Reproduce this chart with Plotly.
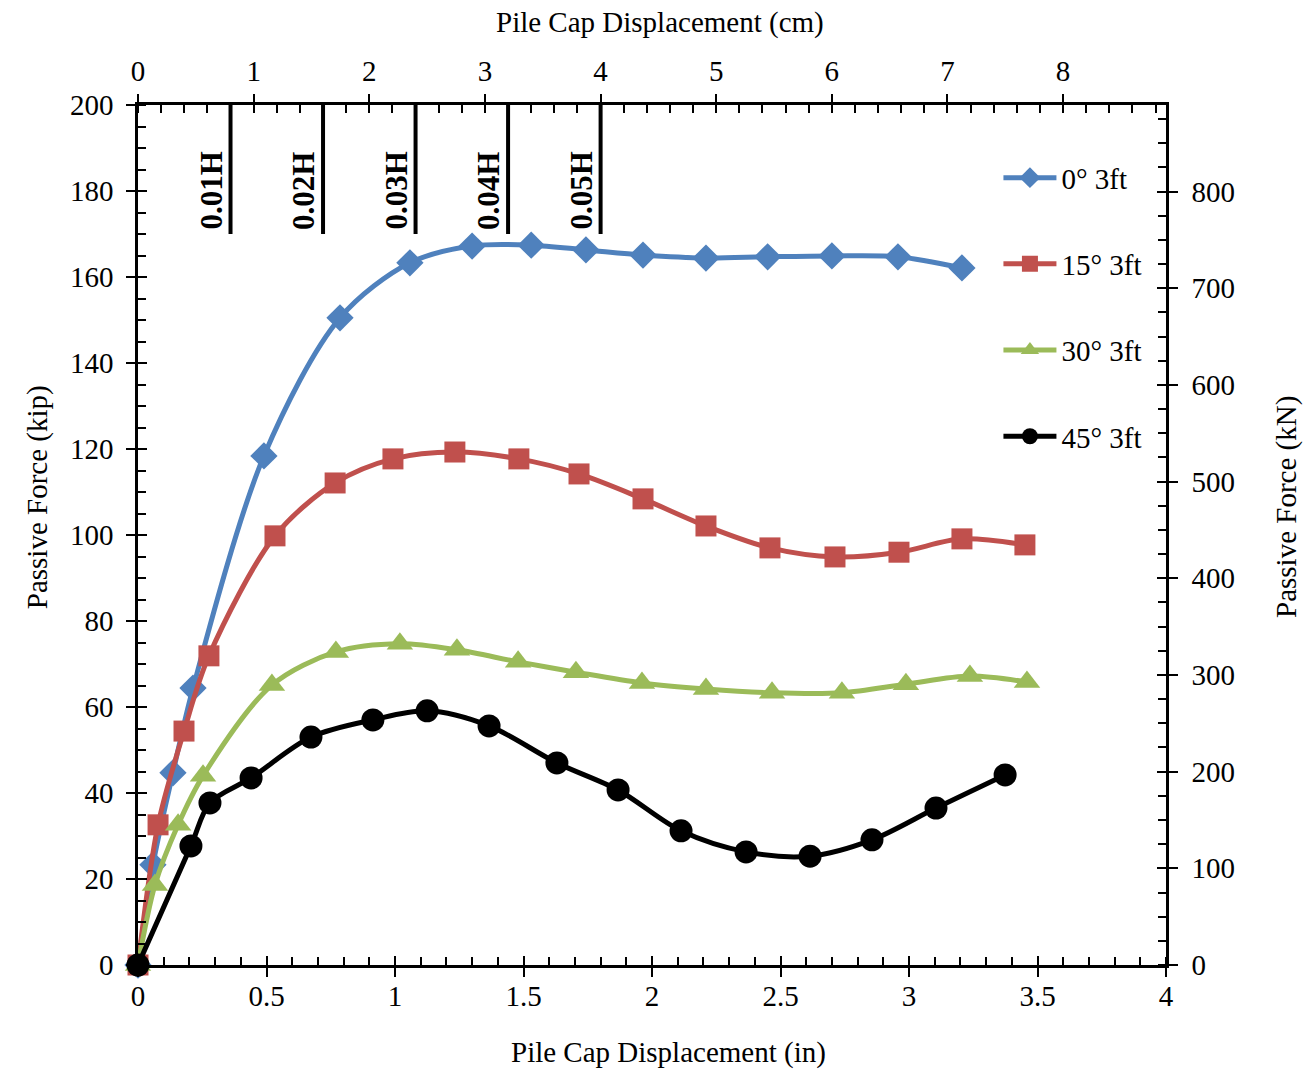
import plotly.graph_objects as go

# ---------------- data ----------------
x_0deg = [0, 0.058, 0.136, 0.214, 0.49, 0.786, 1.058, 1.30, 1.53, 1.743, 1.965, 2.21, 2.45, 2.70, 2.957, 3.206]
f_0deg = [0, 23.3, 44.7, 64.4, 118.4, 150.5, 163.3, 167.2, 167.4, 166.3, 165.1, 164.4, 164.7, 164.9, 164.7, 162.1]

x_15deg = [0, 0.078, 0.179, 0.276, 0.533, 0.767, 0.992, 1.233, 1.482, 1.716, 1.965, 2.21, 2.459, 2.712, 2.961, 3.206, 3.451]
f_15deg = [0, 32.6, 54.4, 71.9, 99.8, 112.1, 117.7, 119.3, 117.7, 114.2, 108.4, 102.1, 97.0, 94.9, 96.0, 99.1, 97.7]

x_30deg = [0, 0.066, 0.156, 0.253, 0.521, 0.77, 1.019, 1.241, 1.479, 1.704, 1.961, 2.21, 2.467, 2.739, 2.988, 3.237, 3.459]
f_30deg = [0, 18.6, 32.6, 44.0, 65.1, 72.8, 74.7, 73.3, 70.5, 68.1, 65.6, 64.2, 63.3, 63.3, 65.3, 67.2, 65.8]

x_45deg = [0, 0.206, 0.28, 0.44, 0.673, 0.914, 1.125, 1.366, 1.630, 1.868, 2.113, 2.366, 2.615, 2.856, 3.105, 3.374]
f_45deg = [0, 27.7, 37.7, 43.5, 53.0, 57.0, 59.1, 55.6, 47.0, 40.7, 31.2, 26.3, 25.3, 29.1, 36.5, 44.2]

series_names = ["0\u00b0 3ft", "15\u00b0 3ft", "30\u00b0 3ft", "45\u00b0 3ft"]

wall_height_in = 36.0
h_fractions = [0.01, 0.02, 0.03, 0.04, 0.05]
h_labels = ["0.01H", "0.02H", "0.03H", "0.04H", "0.05H"]

x_range_in = [0, 4]
y_range_kip = [0, 200]
x_range_cm = [0, 8.89]
KIP_TO_KN = 4.448

# ---------------- styles ----------------
FONT = "Liberation Serif"
FS = 29
colors = ["#4F81BD", "#C0504D", "#9BBB59", "#000000"]
symbols = ["diamond", "square", "triangle-up", "circle"]
msizes = [21, 21, 23, 23]

fig = go.Figure()
xs = [x_0deg, x_15deg, x_30deg, x_45deg]
fs = [f_0deg, f_15deg, f_30deg, f_45deg]
for i in range(4):
    fig.add_trace(go.Scatter(
        x=xs[i], y=fs[i], name=series_names[i], mode="lines+markers",
        line=dict(color=colors[i], width=5, shape="spline", smoothing=0.9),
        marker=dict(symbol=symbols[i], size=msizes[i], color=colors[i]),
        legendgroup=str(i), hoverinfo="skip", cliponaxis=False,
    ))

# dummy traces to activate auxiliary axes
for xa, ya in [("x2", "y2"), ("x3", "y3"), ("x4", "y4")]:
    fig.add_trace(go.Scatter(x=[None], y=[None], xaxis=xa, yaxis=ya, showlegend=False, hoverinfo="skip"))

# 0.01H ... 0.05H markers
for frac, lab in zip(h_fractions, h_labels):
    xv = frac * wall_height_in
    fig.add_shape(type="line", xref="x", yref="y", x0=xv, x1=xv, y0=170, y1=200,
                  line=dict(color="black", width=4))
    fig.add_annotation(x=xv, y=180, xref="x", yref="y", text="<b>" + lab + "</b>",
                       textangle=-90, showarrow=False, xanchor="center", yanchor="middle",
                       xshift=-20, font=dict(family=FONT, size=31, color="black"))

tickfont = dict(family=FONT, size=FS, color="black")
common = dict(showgrid=False, zeroline=False, tickfont=tickfont, tickcolor="black", tickwidth=2)

fig.update_layout(
    width=1313, height=1070,
    margin=dict(l=138, r=147, t=105, b=105),
    paper_bgcolor="white", plot_bgcolor="white",
    font=dict(family=FONT, size=FS, color="black"),
    showlegend=True,
    legend=dict(x=0.837, y=0.945, xanchor="left", yanchor="top", bgcolor="rgba(0,0,0,0)",
                font=dict(family=FONT, size=FS, color="black"), itemwidth=53,
                tracegroupgap=45.5, traceorder="grouped"),
    xaxis=dict(range=x_range_in, dtick=0.5, ticks="outside", ticklen=9, ticklabelstandoff=-6,
               showline=True, linecolor="black", linewidth=2.5,
               minor=dict(dtick=0.1, ticks="inside", ticklen=8, tickcolor="black", tickwidth=2),
               anchor="y", **common),
    yaxis=dict(range=y_range_kip, dtick=20, ticks="outside", ticklen=9, ticklabelstandoff=7,
               showline=True, linecolor="black", linewidth=2.5,
               minor=dict(dtick=5, ticks="inside", ticklen=8, tickcolor="black", tickwidth=2),
               anchor="x", **common),
    xaxis2=dict(range=x_range_cm, dtick=1, ticks="outside", ticklen=8, side="top", ticklabelstandoff=2,
                overlaying="x", anchor="y",
                showline=True, linecolor="black", linewidth=2.5,
                minor=dict(dtick=0.2, ticks="inside", ticklen=8, tickcolor="black", tickwidth=2),
                **common),
    yaxis2=dict(range=[y_range_kip[0] * KIP_TO_KN, y_range_kip[1] * KIP_TO_KN], dtick=100,
                ticks="outside", ticklen=9, side="right", overlaying="y", anchor="x", ticklabelstandoff=8,
                showline=True, linecolor="black", linewidth=2.5,
                minor=dict(dtick=25, ticks="inside", ticklen=8, tickcolor="black", tickwidth=2),
                **common),
    xaxis3=dict(range=x_range_in, dtick=0.5, ticks="inside", ticklen=9, showticklabels=False,
                overlaying="x", anchor="y", showline=False, **common),
    yaxis3=dict(range=y_range_kip, dtick=20, ticks="inside", ticklen=9, showticklabels=False,
                overlaying="y", anchor="x", showline=False, **common),
    xaxis4=dict(range=x_range_cm, dtick=1, ticks="inside", ticklen=8, showticklabels=False,
                side="top", overlaying="x", anchor="y", showline=False, **common),
    yaxis4=dict(range=[y_range_kip[0] * KIP_TO_KN, y_range_kip[1] * KIP_TO_KN], dtick=100,
                ticks="inside", ticklen=9, showticklabels=False, side="right",
                overlaying="y", anchor="x", showline=False, **common),
)

# axis titles
titles = [
    ("Pile Cap Displacement (in)", 0.5165, -0.1023, 0),
    ("Pile Cap Displacement (cm)", 0.508, 1.0965, 0),
    ("Passive Force (kip)", -0.0982, 0.544, -90),
    ("Passive Force (kN)", 1.1177, 0.5326, -90),
]
for t, xp, yp, ang in titles:
    fig.add_annotation(x=xp, y=yp, xref="paper", yref="paper", text=t, showarrow=False,
                       textangle=ang, xanchor="center", yanchor="middle",
                       font=dict(family=FONT, size=FS, color="black"))

fig.write_html("out.html", config={"displayModeBar": False})
